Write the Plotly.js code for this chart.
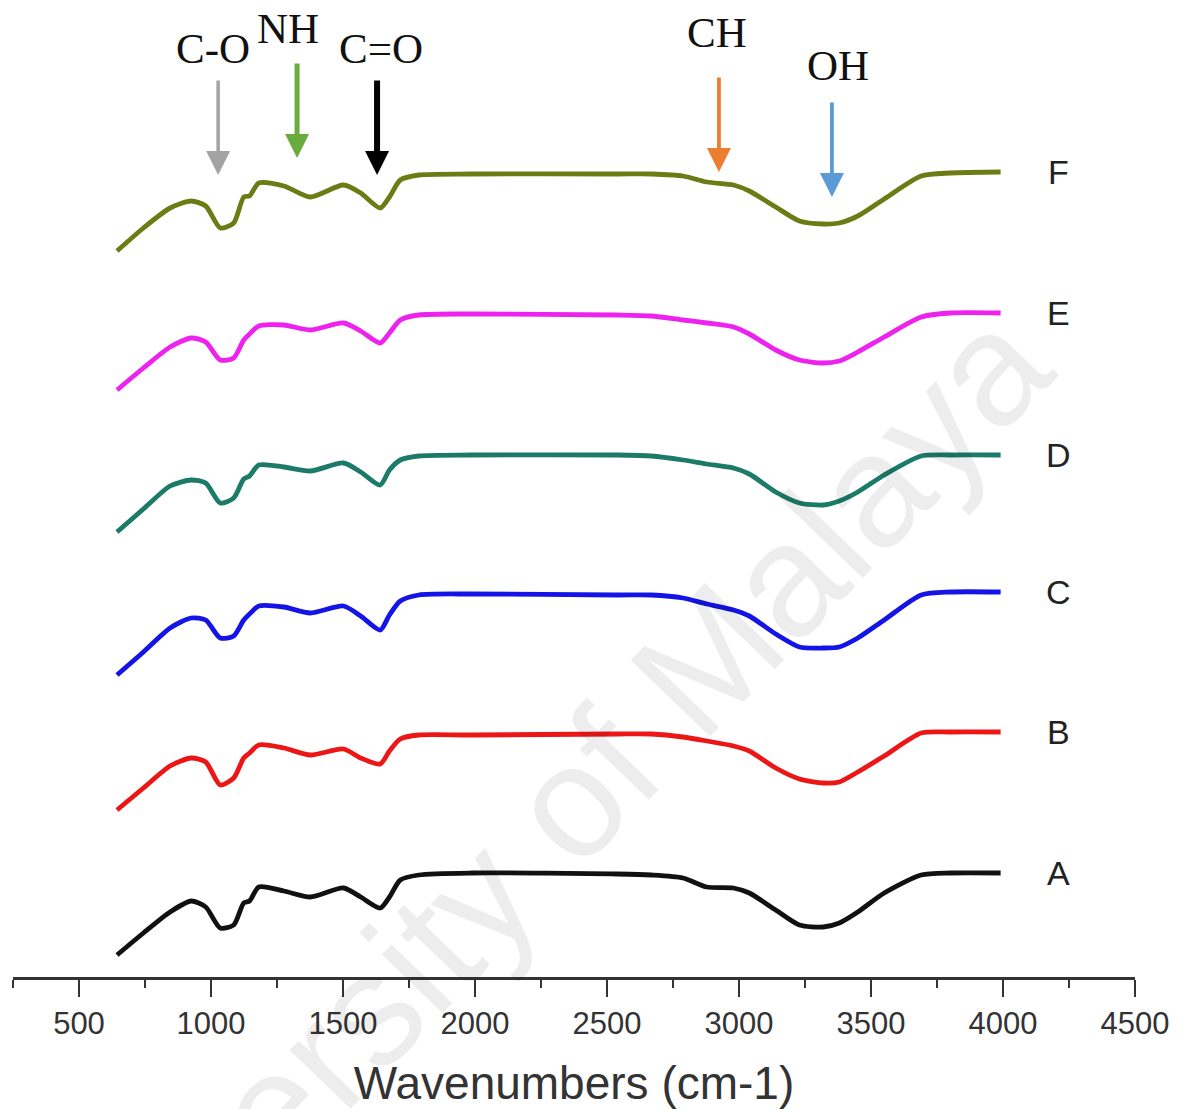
<!DOCTYPE html>
<html>
<head>
<meta charset="utf-8">
<script src="https://cdn.plot.ly/plotly-3.0.1.min.js"></script>
<style>html,body{margin:0;padding:0;background:#fff;}#chart{width:1187px;height:1109px;}</style>
</head>
<body>
<div id="chart"></div>
<script>
// Wavenumbers (cm-1) sampled along the spectra
const wavenumbers = [644, 744, 845, 925, 980, 1035, 1086, 1124, 1146, 1181, 1276, 1376, 1502, 1567, 1641, 1676, 1717, 1787, 1987, 2538, 2668, 2788, 2878, 2979, 3039, 3139, 3229, 3319, 3380, 3450, 3550, 3690, 3801, 3991];

// Stacked (offset) transmittance traces, arbitrary units
const seriesA = [22, 44, 65, 76, 70, 49, 52, 74, 76, 90, 86, 80, 89, 80, 69, 80, 97, 102, 104, 103, 102, 99, 90, 89, 84, 67, 52, 50, 54, 65, 84, 102, 104, 104];
const seriesB = [167, 189, 211, 219, 215, 192, 199, 219, 224, 232, 229, 222, 228, 219, 213, 226, 238, 242, 242, 243, 243, 240, 236, 231, 226, 209, 198, 194, 195, 205, 221, 244, 245, 245];
const seriesC = [302, 325, 349, 359, 357, 339, 341, 357, 363, 371, 370, 364, 371, 361, 347, 362, 376, 382, 383, 382, 382, 379, 373, 367, 361, 343, 330, 329, 330, 339, 357, 382, 385, 385];
const seriesD = [445, 468, 491, 497, 494, 474, 479, 498, 501, 512, 510, 506, 514, 505, 492, 507, 517, 521, 522, 522, 521, 517, 513, 509, 503, 485, 474, 472, 476, 485, 502, 521, 522, 522];
const seriesE = [587, 609, 630, 639, 635, 617, 619, 637, 643, 651, 652, 647, 654, 646, 634, 644, 657, 662, 663, 662, 661, 657, 654, 650, 643, 627, 617, 614, 616, 625, 640, 660, 664, 664];
const seriesF = [726, 749, 769, 776, 771, 749, 754, 780, 781, 794, 791, 780, 792, 784, 769, 780, 797, 802, 803, 803, 803, 801, 795, 792, 786, 770, 756, 753, 754, 761, 778, 801, 804, 805];

const seriesNames = ['A', 'B', 'C', 'D', 'E', 'F'];
const seriesValues = [seriesA, seriesB, seriesC, seriesD, seriesE, seriesF];
const seriesColors = ['#111111', '#ec1616', '#1414e6', '#1b7a68', '#ee22ee', '#6c7b14'];

// Band assignments: label, wavenumber of arrow, arrow colour
const bandLabels = ['C-O', 'NH', 'C=O', 'CH', 'OH'];
const bandPositions = [1027, 1326, 1629, 2924, 3352];
const bandColors = ['#a3a3a3', '#6aab3f', '#000000', '#ed7d31', '#5b9bd5'];

const ticks = [500, 1000, 1500, 2000, 2500, 3000, 3500, 4000, 4500];

const traces = seriesNames.map((n, i) => ({
  type: 'scatter', mode: 'lines', name: n,
  x: wavenumbers, y: seriesValues[i],
  line: {color: seriesColors[i], width: 4.8, shape: 'spline', smoothing: 0.7},
  hoverinfo: 'skip'
}));

const annotations = [];
// watermark (drawn first, behind other annotations)
annotations.push({
  x: 0.451, y: 0.125, xref: 'paper', yref: 'paper', text: 'University of Malaya',
  showarrow: false, textangle: -46,
  font: {family: 'Liberation Sans, Arial, sans-serif', size: 160, color: 'rgba(0,0,0,0.07)'},
  xanchor: 'center', yanchor: 'middle'
});
// series letters at right end
seriesNames.forEach((n, i) => {
  const v = seriesValues[i];
  annotations.push({
    x: 4210, y: v[v.length - 1], xref: 'x', yref: 'y', text: n, showarrow: false,
    font: {family: 'Liberation Sans, Arial, sans-serif', size: 34, color: '#222'},
    xanchor: 'center', yanchor: 'middle'
  });
});
// band arrows
const arrowTipY = [802, 819, 802, 805, 780];
const arrowWidths = [3.5, 5, 6, 3.8, 3.8];
const labelOffsets = [[-5, 127], [-9, 130], [4, 127], [-2, 140], [6, 132]];
bandLabels.forEach((lab, i) => {
  annotations.push({
    x: bandPositions[i], y: arrowTipY[i], xref: 'x', yref: 'y', text: '',
    showarrow: true, ax: 0, ay: -96, arrowhead: 2,
    arrowsize: 4.8 / arrowWidths[i], arrowwidth: arrowWidths[i], arrowcolor: bandColors[i], standoff: 0
  });
  annotations.push({
    x: bandPositions[i], y: arrowTipY[i], xref: 'x', yref: 'y', text: lab,
    showarrow: false, xshift: labelOffsets[i][0], yshift: labelOffsets[i][1],
    font: {family: 'Liberation Serif, Times New Roman, serif', size: 43, color: '#111'},
    xanchor: 'center', yanchor: 'middle'
  });
});

const layout = {
  width: 1187, height: 1109,
  margin: {l: 13, r: 52, t: 0, b: 132},
  paper_bgcolor: '#fff', plot_bgcolor: '#fff',
  showlegend: false, hovermode: false,
  xaxis: {
    range: [250, 4500], tickvals: ticks, ticktext: ticks.map(String),
    showgrid: false, zeroline: false, showline: true,
    linecolor: '#333', linewidth: 2.8,
    ticks: 'outside', ticklen: 17, tickwidth: 2.5, tickcolor: '#333',
    minor: {dtick: 250, tick0: 0, ticks: 'outside', ticklen: 8, tickwidth: 2.5, tickcolor: '#333', showgrid: false},
    tickfont: {family: 'Liberation Sans, Arial, sans-serif', size: 31, color: '#333'},
    title: {text: 'Wavenumbers (cm-1)', font: {family: 'Liberation Sans, Arial, sans-serif', size: 46, color: '#333'}, standoff: 27},
    fixedrange: true
  },
  yaxis: {range: [0, 977], visible: false, fixedrange: true},
  annotations: annotations
};

Plotly.newPlot('chart', traces, layout, {displayModeBar: false, staticPlot: true});
</script>
</body>
</html>
